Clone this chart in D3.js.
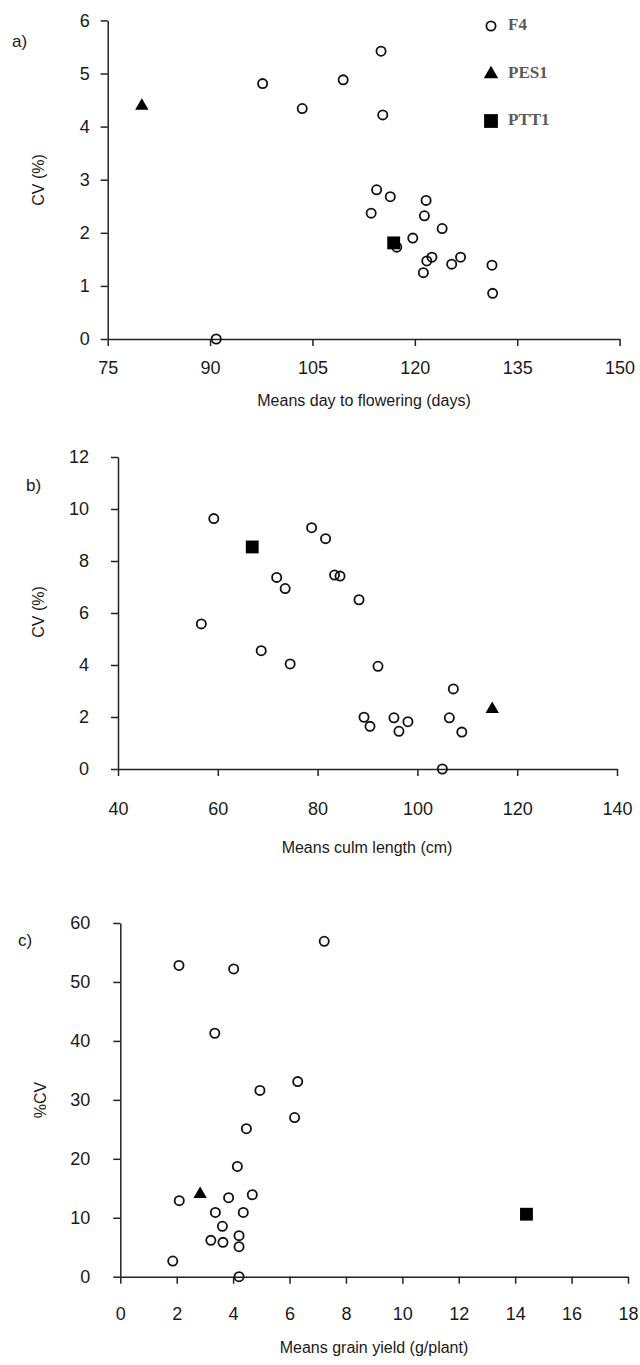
<!DOCTYPE html>
<html>
<head>
<meta charset="utf-8">
<script src="https://cdn.jsdelivr.net/npm/d3@7"></script>
<style>
  html, body { margin: 0; padding: 0; background: #fff; }
  svg text { font-family: "Liberation Sans", Arial, sans-serif; fill: #1a1a1a; }
  .legend text { font-family: "Liberation Serif", "Times New Roman", serif; font-weight: bold; fill: #5a5a5a; }
</style>
</head>
<body>
<svg id="chart" width="640" height="1365"></svg>
<script>
// Series names
const seriesNames = ['F4', 'PES1', 'PTT1'];

// a) days to flowering
const flowerTicksX = [75, 90, 105, 120, 135, 150];
const flowerTicksY = [0, 1, 2, 3, 4, 5, 6];
const flowerF4Days = [115.05, 97.7, 109.5, 103.5, 115.3, 114.4, 116.4, 121.65, 113.6, 121.4, 124.0, 119.7, 117.35, 122.5, 121.75, 126.7, 125.4, 121.25, 131.3, 131.4, 90.9];
const flowerF4CV = [5.42, 4.81, 4.88, 4.34, 4.22, 2.81, 2.68, 2.61, 2.37, 2.32, 2.08, 1.90, 1.73, 1.54, 1.47, 1.54, 1.41, 1.25, 1.39, 0.86, 0.0];
const flowerPES1 = [80.0, 4.39];
const flowerPTT1 = [116.9, 1.81];

// b) culm length
const culmTicksX = [40, 60, 80, 100, 120, 140];
const culmTicksY = [0, 2, 4, 6, 8, 10, 12];
const culmF4Length = [59.2, 78.8, 81.6, 71.8, 73.5, 83.4, 84.5, 88.3, 56.7, 68.7, 74.5, 92.1, 107.2, 89.3, 90.5, 95.3, 98.1, 96.3, 106.4, 108.9, 105.0];
const culmF4CV = [9.63, 9.28, 8.86, 7.37, 6.94, 7.46, 7.42, 6.51, 5.58, 4.55, 4.04, 3.95, 3.08, 1.99, 1.64, 1.97, 1.82, 1.45, 1.97, 1.42, 0.0];
const culmPES1 = [115.0, 2.3];
const culmPTT1 = [66.9, 8.54];

// c) grain yield
const yieldTicksX = [0, 2, 4, 6, 8, 10, 12, 14, 16, 18];
const yieldTicksY = [0, 10, 20, 30, 40, 50, 60];
const yieldF4 = [7.23, 2.08, 4.02, 3.35, 6.29, 4.95, 6.18, 4.47, 4.15, 2.09, 3.84, 4.68, 3.37, 4.36, 3.62, 4.21, 3.21, 3.64, 4.21, 1.86, 4.21];
const yieldF4CV = [56.9, 52.8, 52.2, 41.3, 33.1, 31.6, 27.0, 25.1, 18.7, 12.9, 13.4, 13.9, 10.9, 10.9, 8.55, 6.96, 6.17, 5.83, 5.09, 2.66, 0.0];
const yieldPES1 = [2.83, 14.0];
const yieldPTT1 = [14.4, 10.6];

const svg = d3.select('#chart');

const panels = [
  {
    tag: 'a)', tagPos: [12, 47],
    xTicks: flowerTicksX, yTicks: flowerTicksY,
    xs: flowerF4Days, ys: flowerF4CV, pes: flowerPES1, ptt: flowerPTT1,
    left: 107.7, right: 619.6, top: 20.4, bottom: 339,
    xPad: 15, yPad: 11,
    xTitle: 'Means day to flowering (days)', xTitleY: 402, xTitleX: 364,
    yTitle: 'CV (%)', yTitleX: 40, yTitleY: 180,
    legend: true
  },
  {
    tag: 'b)', tagPos: [26, 491],
    xTicks: culmTicksX, yTicks: culmTicksY,
    xs: culmF4Length, ys: culmF4CV, pes: culmPES1, ptt: culmPTT1,
    left: 118, right: 617, top: 457, bottom: 769,
    xPad: 26, yPad: 22,
    xTitle: 'Means culm length (cm)', xTitleY: 849, xTitleX: 367,
    yTitle: 'CV (%)', yTitleX: 40, yTitleY: 612
  },
  {
    tag: 'c)', tagPos: [18, 946],
    xTicks: yieldTicksX, yTicks: yieldTicksY,
    xs: yieldF4, ys: yieldF4CV, pes: yieldPES1, ptt: yieldPTT1,
    left: 120.3, right: 628, top: 923, bottom: 1276.7,
    xPad: 24, yPad: 23,
    xTitle: 'Means grain yield (g/plant)', xTitleY: 1349, xTitleX: 374,
    yTitle: '%CV', yTitleX: 42, yTitleY: 1100
  }
];

const tri = d3.symbol().type(d3.symbolTriangle).size(78);
const sq = d3.symbol().type(d3.symbolSquare).size(165);

function drawPanel(p) {
  const x = d3.scaleLinear()
    .domain(d3.extent(p.xTicks))
    .range([p.left, p.right]);
  const y = d3.scaleLinear()
    .domain(d3.extent(p.yTicks))
    .range([p.bottom, p.top]);

  const g = svg.append('g');

  const xAxis = g.append('g')
    .attr('transform', `translate(0,${p.bottom})`)
    .call(d3.axisBottom(x).tickValues(p.xTicks).tickFormat(d3.format('d'))
      .tickSize(7).tickSizeOuter(0).tickPadding(p.xPad));
  const yAxis = g.append('g')
    .attr('transform', `translate(${p.left},0)`)
    .call(d3.axisLeft(y).tickValues(p.yTicks).tickFormat(d3.format('d'))
      .tickSize(7).tickSizeOuter(0).tickPadding(p.yPad));

  [xAxis, yAxis].forEach(ax => {
    ax.selectAll('path, line').attr('stroke', '#222').attr('stroke-width', 1.5);
    ax.selectAll('text').style('font-size', '18px').attr('fill', '#1a1a1a');
  });

  // F4 points
  g.selectAll('circle.f4')
    .data(d3.zip(p.xs, p.ys))
    .enter()
    .append('circle')
    .attr('class', 'f4')
    .attr('cx', d => x(d[0]))
    .attr('cy', d => y(d[1]))
    .attr('r', 4.6)
    .attr('fill', 'none')
    .attr('stroke', '#111')
    .attr('stroke-width', 1.8);

  g.append('path')
    .attr('d', tri())
    .attr('transform', `translate(${x(p.pes[0])},${y(p.pes[1])})`)
    .attr('fill', '#000');

  g.append('path')
    .attr('d', sq())
    .attr('transform', `translate(${x(p.ptt[0])},${y(p.ptt[1])})`)
    .attr('fill', '#000');

  g.append('text')
    .attr('x', p.tagPos[0]).attr('y', p.tagPos[1])
    .style('font-size', '17px')
    .text(p.tag);

  g.append('text')
    .attr('x', p.xTitleX).attr('y', p.xTitleY)
    .attr('text-anchor', 'middle')
    .attr('dominant-baseline', 'middle')
    .style('font-size', '16px')
    .text(p.xTitle);

  g.append('text')
    .attr('transform', `translate(${p.yTitleX},${p.yTitleY}) rotate(-90)`)
    .attr('text-anchor', 'middle')
    .attr('dominant-baseline', 'middle')
    .style('font-size', '16px')
    .text(p.yTitle);

  if (p.legend) {
    const lg = g.append('g').attr('class', 'legend');
    const rows = [26, 74, 121];
    const lx = 491;
    lg.append('circle')
      .attr('cx', lx).attr('cy', rows[0]).attr('r', 4.6)
      .attr('fill', 'none').attr('stroke', '#111').attr('stroke-width', 1.8);
    lg.append('path').attr('d', d3.symbol().type(d3.symbolTriangle).size(90)())
      .attr('transform', `translate(${lx},${rows[1]})`).attr('fill', '#000');
    lg.append('path').attr('d', d3.symbol().type(d3.symbolSquare).size(190)())
      .attr('transform', `translate(${lx},${rows[2]})`).attr('fill', '#000');
    lg.selectAll('text.lab')
      .data(seriesNames)
      .enter()
      .append('text')
      .attr('class', 'lab')
      .attr('x', 508)
      .attr('y', (d, i) => rows[i])
      .attr('dominant-baseline', 'middle')
      .style('font-size', '17px')
      .text(d => d);
  }
}

panels.forEach(drawPanel);
</script>
</body>
</html>
